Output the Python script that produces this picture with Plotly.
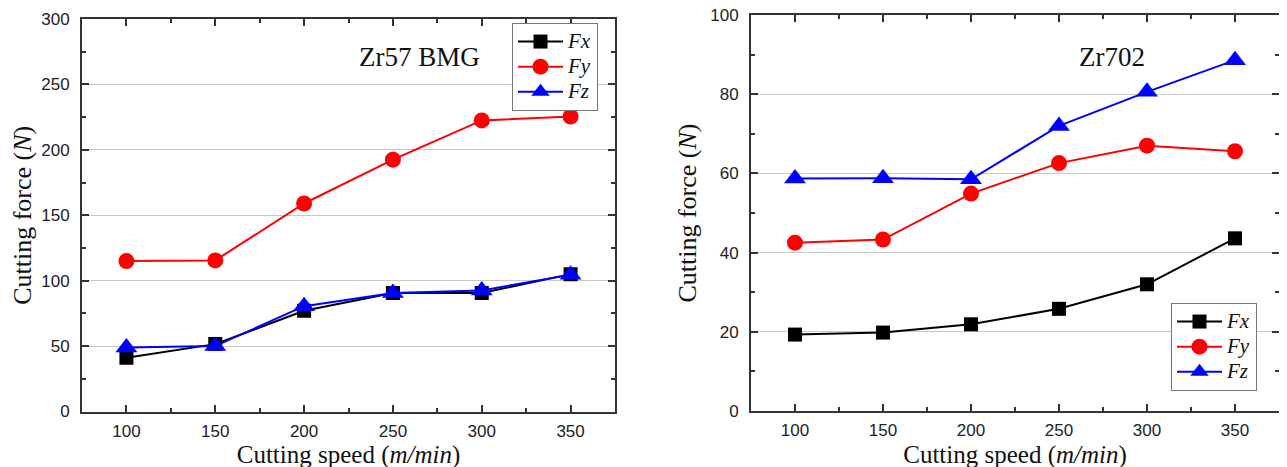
import plotly.graph_objects as go

speed = [100, 150, 200, 250, 300, 350]

# Zr57 BMG (left)
bmg_fx = [41, 51.5, 77, 90.5, 90.5, 105]
bmg_fy = [115, 115.5, 159, 192.5, 222.5, 225.5]
bmg_fz = [49, 50, 80.5, 90.5, 92.5, 104.5]

# Zr702 (right)
zr_fx = [19.3, 19.8, 21.9, 25.8, 32.0, 43.6]
zr_fy = [42.5, 43.3, 54.9, 62.6, 67.0, 65.6]
zr_fz = [58.7, 58.8, 58.5, 72.0, 80.6, 88.6]

names = ["Fx", "Fy", "Fz"]
colors = ["#000000", "#ff0000", "#0000ff"]
symbols = ["square", "circle", "triangle-up"]
msizes = [14, 16, 19]

W, H = 1287, 467
OFF = 8  # page body margin
fig = go.Figure()

def add(xa, ya, series, legend, show):
    for s, n, c, sym, ms in zip(series, names, colors, symbols, msizes):
        fig.add_trace(go.Scatter(
            x=speed, y=s, mode="lines+markers",
            name="<span style='font-size:21px'><i>%s</i></span>" % n,
            line=dict(color=c, width=2),
            marker=dict(symbol=sym, size=ms, color=c),
            xaxis=xa, yaxis=ya, legend=legend, showlegend=show))

add("x", "y", [bmg_fx, bmg_fy, bmg_fz], "legend", True)
add("x2", "y2", [zr_fx, zr_fy, zr_fz], "legend2", True)

serif = "Liberation Serif, Times New Roman, serif"
sans = "Liberation Sans, Arial, sans-serif"

def px(x):
    return (x - OFF) / W

def py(y):
    return 1 - (y - OFF) / H

def xax(domain, anchor):
    return dict(domain=domain, anchor=anchor, range=[75, 375], automargin=False,
                tickvals=speed, ticks="inside", ticklen=7, tickwidth=2,
                tickcolor="#333", showline=True, linecolor="#333", linewidth=2,
                mirror="allticks", showgrid=False, zeroline=False,
                ticklabeloverflow="allow", ticklabelstandoff=3,
                minor=dict(dtick=25, tick0=75, ticks="inside", ticklen=4, tickwidth=2, tickcolor="#333"),
                tickfont=dict(family=sans, size=17, color="#222"),
                title=dict(text="Cutting speed (<i>m/min</i>)", font=dict(family=serif, size=25, color="#111"), standoff=6))

def yax(domain, anchor, rng, dtick):
    return dict(domain=domain, anchor=anchor, range=rng, dtick=dtick, automargin=False,
                ticks="inside", ticklen=7, tickwidth=2, tickcolor="#333",
                showline=True, linecolor="#333", linewidth=2, mirror="allticks",
                ticklabeloverflow="allow", ticklabelstandoff=7,
                showgrid=True, gridcolor="#c8c8c8", gridwidth=1, zeroline=False,
                minor=dict(dtick=dtick / 2, ticks="inside", ticklen=4, tickwidth=2, tickcolor="#333", showgrid=False),
                tickfont=dict(family=sans, size=17, color="#222"),
                title=dict(text="Cutting force (<i>N</i>)", font=dict(family=serif, size=26, color="#111"), standoff=6))

lx = [px(82), px(615)]
rx = [px(751), px(1279)]
ly = [py(411.5), py(19)]
ry = [py(411), py(15)]

legfont = dict(family=serif, size=17, color="#111")
fig.update_layout(
    width=W, height=H, margin=dict(l=0, r=0, t=0, b=0, autoexpand=False),
    paper_bgcolor="white", plot_bgcolor="white",
    xaxis=xax(lx, "y"), yaxis=yax(ly, "x", [0, 300], 50),
    xaxis2=xax(rx, "y2"), yaxis2=yax(ry, "x2", [0, 100], 20),
    legend=dict(x=px(512), y=py(23), xanchor="left", yanchor="top",
                bordercolor="#777", borderwidth=1, bgcolor="white",
                font=legfont, tracegroupgap=0, itemwidth=45),
    legend2=dict(x=px(1171), y=py(303), xanchor="left", yanchor="top",
                 bordercolor="#777", borderwidth=1, bgcolor="white",
                 font=legfont, tracegroupgap=0, itemwidth=45),
    showlegend=True,
    annotations=[
        dict(text="Zr57 BMG", x=px(419), y=py(57), xref="paper", yref="paper",
             xanchor="center", yanchor="middle",
             showarrow=False, font=dict(family=serif, size=27, color="#111")),
        dict(text="Zr702", x=px(1112), y=py(57), xref="paper", yref="paper",
             xanchor="center", yanchor="middle",
             showarrow=False, font=dict(family=serif, size=27, color="#111")),
    ],
)

fig.write_html("out.html")
